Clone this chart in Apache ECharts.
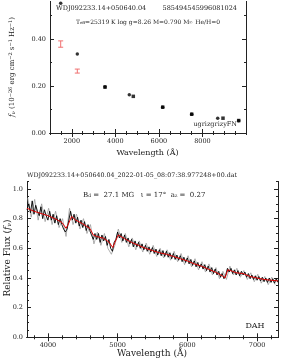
<!DOCTYPE html>
<html><head><meta charset="utf-8">
<script src="https://cdn.jsdelivr.net/npm/echarts@6/dist/echarts.min.js"></script>
<style>html,body{margin:0;padding:0;background:#fff}#c{width:287px;height:363px}</style>
</head><body><div id="c"></div>
<script>
// ---------- top panel: photometry ----------
const photErrWave = [1491, 2254];
const photErrLo   = [0.365, 0.255];
const photErrHi   = [0.392, 0.272];
const modelPhotWave = [1491, 2254, 3526, 4641, 6175, 7507, 8701, 9665];
const modelPhotFlux = [0.552, 0.336, 0.197, 0.163, 0.110, 0.080, 0.063, 0.052];
const obsPhotWave = [3526, 4825, 6175, 7507, 8944, 9665];
const obsPhotFlux = [0.195, 0.156, 0.110, 0.080, 0.063, 0.053];
const topXTicks = [2000, 4000, 6000, 8000];
const topYTicks = [0, 0.2, 0.4];

// ---------- bottom panel: spectrum ----------
const modelWave = [3700,3800,3900,4000,4100,4200,4260,4290,4340,4400,4500,4600,4650,4700,4800,4880,4930,4960,5010,5100,5200,5300,5400,5500,5600,5700,5800,5900,6000,6100,6200,6300,6400,6500,6540,6580,6650,6700,6800,6900,7000,7100,7200,7300];
const modelFlux = [0.87,0.85,0.835,0.82,0.80,0.775,0.735,0.76,0.815,0.79,0.765,0.735,0.69,0.68,0.668,0.64,0.605,0.64,0.69,0.665,0.64,0.62,0.60,0.585,0.57,0.56,0.545,0.53,0.515,0.495,0.48,0.46,0.44,0.415,0.40,0.455,0.445,0.435,0.43,0.41,0.40,0.39,0.385,0.38];

const obsWave = [3700,3725,3750,3775,3800,3825,3850,3875,3900,3925,3950,3975,4000,4025,4050,4075,4100,4125,4150,4175,4200,4225,4250,4275,4300,4325,4350,4375,4400,4425,4450,4475,4500,4525,4550,4575,4600,4625,4650,4675,4700,4725,4750,4775,4800,4825,4850,4875,4900,4925,4950,4975,5000,5025,5050,5075,5100,5125,5150,5175,5200,5225,5250,5275,5300,5325,5350,5375,5400,5425,5450,5475,5500,5525,5550,5575,5600,5625,5650,5675,5700,5725,5750,5775,5800,5825,5850,5875,5900,5925,5950,5975,6000,6025,6050,6075,6100,6125,6150,6175,6200,6225,6250,6275,6300,6325,6350,6375,6400,6425,6450,6475,6500,6525,6550,6575,6600,6625,6650,6675,6700,6725,6750,6775,6800,6825,6850,6875,6900,6925,6950,6975,7000,7025,7050,7075,7100,7125,7150,7175,7200,7225,7250,7275,7300];
const obsFlux = [0.86,0.90,0.84,0.92,0.83,0.89,0.85,0.82,0.88,0.80,0.86,0.82,0.79,0.85,0.79,0.83,0.77,0.82,0.76,0.80,0.76,0.73,0.71,0.73,0.79,0.85,0.79,0.83,0.77,0.81,0.75,0.79,0.74,0.78,0.72,0.76,0.72,0.71,0.66,0.70,0.66,0.70,0.64,0.69,0.65,0.68,0.62,0.66,0.60,0.58,0.64,0.66,0.71,0.67,0.70,0.65,0.69,0.64,0.67,0.63,0.66,0.61,0.65,0.61,0.64,0.60,0.63,0.59,0.62,0.58,0.61,0.575,0.605,0.565,0.595,0.555,0.59,0.55,0.585,0.545,0.58,0.54,0.57,0.53,0.565,0.525,0.555,0.52,0.55,0.51,0.54,0.505,0.535,0.495,0.525,0.485,0.515,0.475,0.505,0.47,0.495,0.46,0.49,0.45,0.48,0.44,0.47,0.43,0.46,0.42,0.445,0.405,0.43,0.395,0.42,0.465,0.44,0.465,0.43,0.455,0.42,0.45,0.415,0.445,0.42,0.44,0.405,0.43,0.395,0.42,0.39,0.415,0.385,0.41,0.38,0.405,0.375,0.40,0.37,0.40,0.37,0.395,0.365,0.395,0.37];

const rawWave = [3710,3760,3810,3860,3910,3960,4010,4060,4110,4160,4210,4260,4310,4360,4410,4460,4510,4560,4610,4660,4710,4760,4810,4860,4910,4960,5010,5060,5110,5160,5210,5260,5310,5360,5410,5460,5510,5560,5610,5660,5710,5760,5810,5860,5910,5960,6010,6060,6110,6160,6210,6260,6310,6360,6410,6460,6510,6560,6610,6660,6710,6760,6810,6860,6910,6960,7010,7060,7110,7160,7210,7260];
const rawFlux = [0.94,0.81,0.93,0.79,0.90,0.78,0.87,0.76,0.85,0.74,0.80,0.68,0.87,0.76,0.83,0.73,0.80,0.70,0.76,0.63,0.71,0.62,0.70,0.60,0.56,0.62,0.73,0.64,0.70,0.61,0.67,0.59,0.65,0.575,0.635,0.56,0.62,0.545,0.60,0.535,0.59,0.52,0.58,0.51,0.565,0.49,0.55,0.475,0.53,0.455,0.51,0.44,0.495,0.42,0.47,0.395,0.445,0.39,0.48,0.42,0.465,0.405,0.45,0.39,0.435,0.375,0.425,0.365,0.41,0.355,0.405,0.355];
const botXTicks = [4000, 5000, 6000, 7000];
const botYTicks = [0, 0.2, 0.4, 0.6, 0.8, 1.0];

const zip = (a, b) => a.map((v, i) => [v, b[i]]);
const SERIF = '"DejaVu Serif", "Liberation Serif", serif';

function range(min, max, step) {
  const out = [];
  const start = Math.ceil(min / step - 1e-9) * step;
  for (let v = start; v <= max + 1e-9; v += step) out.push(+v.toFixed(6));
  return out;
}

function axes(dim, grid, min, max, majors, minorStep, fmt) {
  const posA = dim === 'x' ? 'bottom' : 'left';
  const posB = dim === 'x' ? 'top' : 'right';
  const minors = range(min, max, minorStep);
  const base = {
    type: 'value', gridIndex: grid, min: min, max: max, splitLine: { show: false },
    axisLine: { show: true, lineStyle: { color: '#222', width: 1 } }
  };
  return [
    Object.assign({}, base, { position: posA,
      axisTick: { show: true, inside: true, length: 4, customValues: majors, lineStyle: { color: '#222' } },
      axisLabel: { show: true, customValues: majors, formatter: fmt, fontFamily: SERIF, fontSize: 6.5, color: '#222', margin: dim === 'x' ? 5 : 4 } }),
    Object.assign({}, base, { position: posA,
      axisTick: { show: true, inside: true, length: 2, customValues: minors, lineStyle: { color: '#222' } },
      axisLabel: { show: false } }),
    Object.assign({}, base, { position: posB,
      axisTick: { show: true, inside: true, length: 4, customValues: majors, lineStyle: { color: '#222' } },
      axisLabel: { show: false } }),
    Object.assign({}, base, { position: posB,
      axisTick: { show: true, inside: true, length: 2, customValues: minors, lineStyle: { color: '#222' } },
      axisLabel: { show: false } })
  ];
}

const xAxes = [].concat(
  axes('x', 0, 1000, 10000, topXTicks, 500, v => String(v)),
  axes('x', 1, 3700, 7300, botXTicks, 200, v => String(v))
);
const yAxes = [].concat(
  axes('y', 0, 0, 0.56, topYTicks, 0.1, v => v.toFixed(2)),
  axes('y', 1, 0, 1.05, botYTicks, 0.05, v => v.toFixed(1))
);

const chart = echarts.init(document.getElementById('c'), null, { renderer: 'canvas' });

const errData = photErrWave.map((w, i) => [w, photErrLo[i], photErrHi[i]]);

chart.setOption({
  animation: false,
  backgroundColor: '#fff',
  grid: [
    { left: 50, top: 1.4, width: 196, height: 131.6 },
    { left: 27, top: 181.6, width: 251, height: 155.7 }
  ],
  xAxis: xAxes,
  yAxis: yAxes,
  series: [
    {
      type: 'custom', xAxisIndex: 0, yAxisIndex: 0, data: errData,
      renderItem: function (params, api) {
        const x = api.value(0);
        const a = api.coord([x, api.value(1)]);
        const b = api.coord([x, api.value(2)]);
        const st = { stroke: '#f07070', lineWidth: 1 };
        return { type: 'group', children: [
          { type: 'line', shape: { x1: a[0], y1: a[1], x2: b[0], y2: b[1] }, style: st },
          { type: 'line', shape: { x1: a[0] - 2.5, y1: a[1], x2: a[0] + 2.5, y2: a[1] }, style: st },
          { type: 'line', shape: { x1: b[0] - 2.5, y1: b[1], x2: b[0] + 2.5, y2: b[1] }, style: st }
        ] };
      }
    },
    {
      type: 'scatter', xAxisIndex: 0, yAxisIndex: 0, data: zip(modelPhotWave, modelPhotFlux),
      symbol: 'circle', symbolSize: 3.5, itemStyle: { color: '#000' }
    },
    {
      type: 'scatter', xAxisIndex: 0, yAxisIndex: 0, data: zip(obsPhotWave, obsPhotFlux),
      symbol: 'rect', symbolSize: 3.5, itemStyle: { color: '#000' }
    },
    {
      type: 'line', xAxisIndex: 4, yAxisIndex: 4, data: zip(rawWave, rawFlux),
      symbol: 'none', lineStyle: { color: '#9a9a9a', width: 0.8 }
    },
    {
      type: 'line', xAxisIndex: 4, yAxisIndex: 4, data: zip(obsWave, obsFlux),
      symbol: 'none', lineStyle: { color: '#000', width: 0.9 }
    },
    {
      type: 'line', xAxisIndex: 4, yAxisIndex: 4, data: zip(modelWave, modelFlux),
      symbol: 'none', lineStyle: { color: '#e00000', width: 1 }
    }
  ],
  graphic: [
    { type: 'text', left: 56, top: 5, style: { text: 'WDJ092233.14+050640.04', font: '6.5px ' + SERIF, fill: '#222' } },
    { type: 'text', right: 50, top: 5, style: { text: '585494545996081024', font: '6.5px ' + SERIF, fill: '#222' } },
    { type: 'text', x: 148, y: 22, style: {
        text: 'T{s|eff}=25319 K log g=8.26 M=0.790 M{s|☉} He/H=0',
        font: '6px ' + SERIF, fill: '#222', align: 'center', verticalAlign: 'middle',
        rich: { s: { fontSize: 4, fontFamily: SERIF, verticalAlign: 'bottom', fill: '#222' } } } },
    { type: 'text', x: 237, y: 124, style: { text: 'ugrizgrizyFN', font: '6.5px ' + SERIF, fill: '#222', align: 'right', verticalAlign: 'middle' } },
    { type: 'text', x: 147.5, y: 153, style: { text: 'Wavelength (Å)', font: '8px ' + SERIF, fill: '#222', align: 'center', verticalAlign: 'middle' } },
    { type: 'text', x: 12, y: 67, rotation: Math.PI / 2, style: {
        text: '{i|f}{s|ν} (10{p|−26} erg cm{p|−2} s{p|−1} Hz{p|−1})',
        font: '7px ' + SERIF, fill: '#222', align: 'center', verticalAlign: 'middle',
        rich: {
          i: { fontSize: 7.5, fontStyle: 'italic', fontFamily: SERIF, fill: '#222' },
          s: { fontSize: 5, fontFamily: SERIF, verticalAlign: 'bottom', fill: '#222' },
          p: { fontSize: 5, fontFamily: SERIF, verticalAlign: 'top', fill: '#222' }
        } } },
    { type: 'text', left: 27, top: 172.5, style: { text: 'WDJ092233.14+050640.04_2022-01-05_08:07:38.977248+00.dat', font: '6.3px ' + SERIF, fill: '#222' } },
    { type: 'text', x: 83, y: 195, style: {
        text: 'B{s|d} =  27.1 MG   ι = 17°  a{s|z} =  0.27',
        font: '7px ' + SERIF, fill: '#222', align: 'left', verticalAlign: 'middle',
        rich: { s: { fontSize: 4.5, fontFamily: SERIF, verticalAlign: 'bottom', fill: '#222' } } } },
    { type: 'text', x: 255, y: 326, style: { text: 'DAH', font: '8px ' + SERIF, fill: '#222', align: 'center', verticalAlign: 'middle' } },
    { type: 'text', x: 152, y: 354, style: { text: 'Wavelength (Å)', font: '9px ' + SERIF, fill: '#222', align: 'center', verticalAlign: 'middle' } },
    { type: 'text', x: 8, y: 258, rotation: Math.PI / 2, style: {
        text: 'Relative Flux ({i|f}{s|ν})',
        font: '9px ' + SERIF, fill: '#222', align: 'center', verticalAlign: 'middle',
        rich: {
          i: { fontSize: 9, fontStyle: 'italic', fontFamily: SERIF, fill: '#222' },
          s: { fontSize: 6, fontFamily: SERIF, verticalAlign: 'bottom', fill: '#222' }
        } } }
  ]
});
</script>
</body></html>
